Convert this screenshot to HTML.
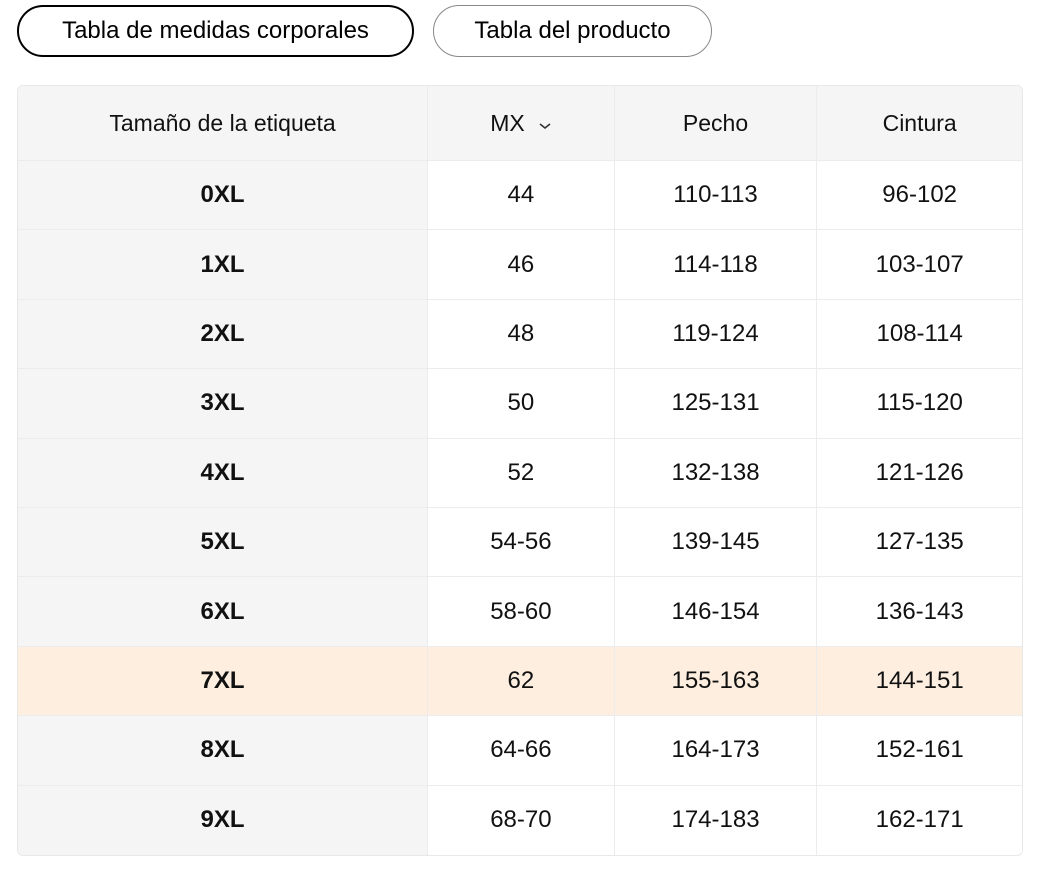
<!DOCTYPE html>
<html><head><meta charset="utf-8"><style>
*{margin:0;padding:0;box-sizing:border-box}
body{width:1046px;height:874px;background:#fff;font-family:"Liberation Sans",Arial,sans-serif;color:#111;position:relative;overflow:hidden}
.btn{position:absolute;top:5px;height:52px;border-radius:26px;display:flex;align-items:center;justify-content:center;font-size:24px;color:#000}
.b1{left:17px;width:397px;border:2.5px solid #000}
.b2{left:433px;width:279px;border:1px solid #888}
table{position:absolute;left:17px;top:85px;width:1006px;border-collapse:separate;border-spacing:0;border:1px solid #e8e8e8;border-radius:6px;overflow:hidden}
td{text-align:center;font-size:24px;border-right:1px solid #ececec;border-bottom:1px solid #ececec;height:69.4px;background:#fff;color:#111}
tr td:last-child{border-right:none}
tr:last-child td{border-bottom:none}
tr.h td{height:75px;background:#f5f5f5;font-size:23px}
td.f{background:#f5f5f5;font-weight:bold}
tr.hl td{background:#fdeee0}
</style></head><body>
<div class="btn b1">Tabla de medidas corporales</div>
<div class="btn b2">Tabla del producto</div>
<table>
<colgroup><col style="width:411px"><col style="width:187px"><col style="width:203px"><col style="width:205px"></colgroup>
<tr class="h"><td>Tamaño de la etiqueta</td><td>MX&nbsp;&nbsp;<svg width="14" height="10" viewBox="0 0 14 10"><path d="M2 3l5 4 5-4" fill="none" stroke="#333" stroke-width="1.6"/></svg></td><td>Pecho</td><td>Cintura</td></tr>
<tr><td class="f">0XL</td><td>44</td><td>110-113</td><td>96-102</td></tr>
<tr><td class="f">1XL</td><td>46</td><td>114-118</td><td>103-107</td></tr>
<tr><td class="f">2XL</td><td>48</td><td>119-124</td><td>108-114</td></tr>
<tr><td class="f">3XL</td><td>50</td><td>125-131</td><td>115-120</td></tr>
<tr><td class="f">4XL</td><td>52</td><td>132-138</td><td>121-126</td></tr>
<tr><td class="f">5XL</td><td>54-56</td><td>139-145</td><td>127-135</td></tr>
<tr><td class="f">6XL</td><td>58-60</td><td>146-154</td><td>136-143</td></tr>
<tr class="hl"><td class="f">7XL</td><td>62</td><td>155-163</td><td>144-151</td></tr>
<tr><td class="f">8XL</td><td>64-66</td><td>164-173</td><td>152-161</td></tr>
<tr><td class="f">9XL</td><td>68-70</td><td>174-183</td><td>162-171</td></tr>
</table>
</body></html>
